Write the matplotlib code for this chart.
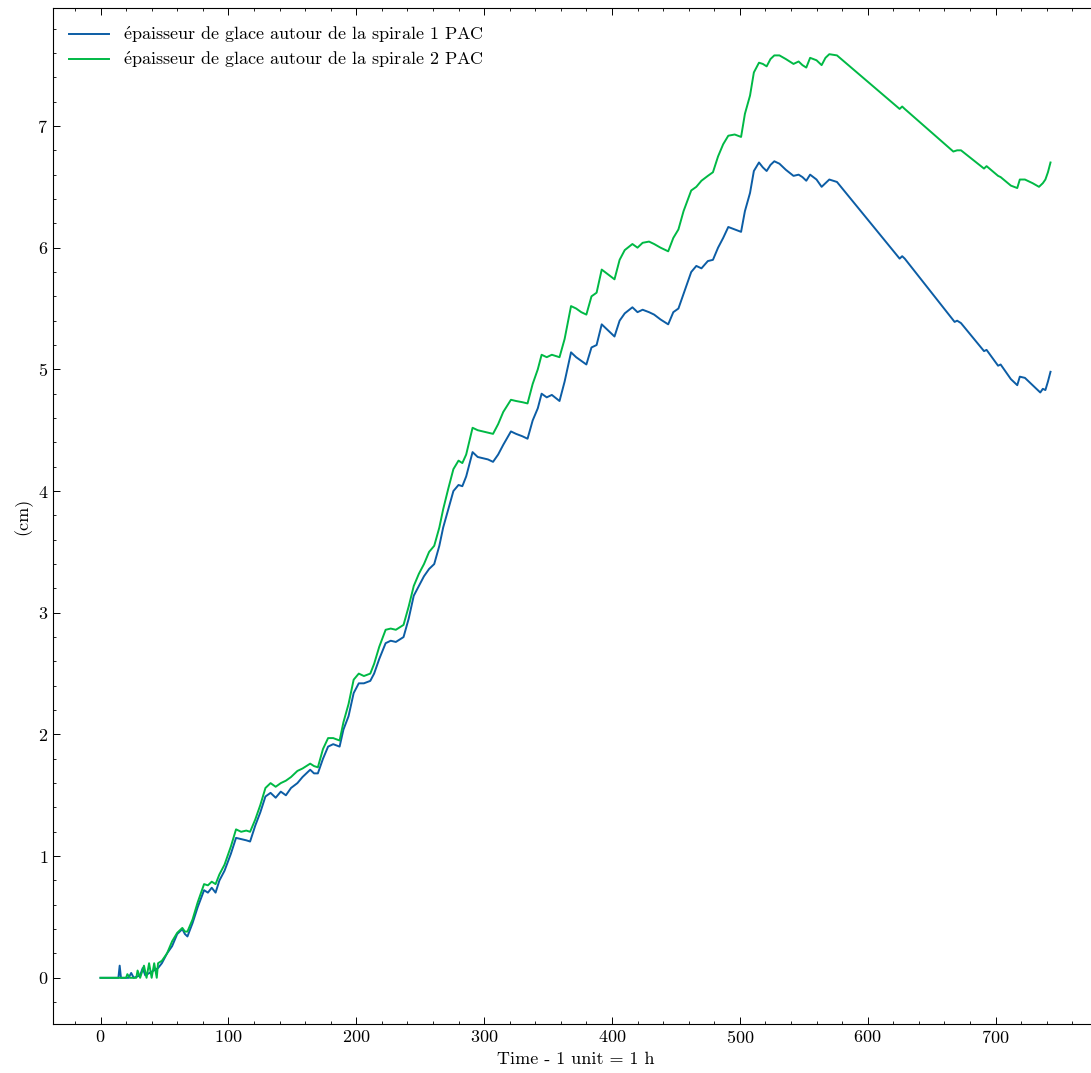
import numpy as np
import matplotlib
matplotlib.use("Agg")
import matplotlib.pyplot as plt
from matplotlib.ticker import MultipleLocator

# valeurs (heures, cm)
hours_1 = [0, 14, 15, 16, 22, 24, 26, 31, 33, 35, 40, 45, 48, 52, 56, 60, 64, 66, 68, 72,
           76, 81, 84, 87, 90, 93, 97, 102, 106, 110, 114, 117, 121, 125, 129, 133, 137, 141,
           145, 149, 154, 158, 164, 167, 170, 174, 178, 182, 187, 190, 194, 198, 202, 206,
           211, 214, 218, 223, 227, 231, 237, 241, 245, 249, 253, 257, 261, 265, 268, 272,
           276, 280, 283, 286, 291, 295, 299, 303, 307, 311, 315, 321, 325, 330, 334, 338,
           342, 345, 349, 353, 359, 363, 368, 372, 376, 380, 384, 388, 392, 397, 402, 406,
           410, 416, 420, 424, 429, 433, 438, 444, 448, 452, 456, 462, 466, 470, 475, 479,
           483, 487, 491, 496, 501, 504, 508, 511, 515, 518, 521, 524, 527, 531, 536, 542,
           546, 549, 552, 555, 560, 564, 567, 570, 576, 625, 627, 629, 668, 670, 673, 691,
           693, 702, 704, 712, 717, 719, 723, 729, 735, 737, 739, 741, 743]
ice_1 = [0, 0, 0.1, 0, 0, 0.04, 0, 0.02, 0.08, 0.02, 0.05, 0.08, 0.12, 0.2, 0.26, 0.36, 0.4,
         0.36, 0.34, 0.45, 0.58, 0.72, 0.7, 0.74, 0.7, 0.8, 0.88, 1.02, 1.15, 1.14, 1.13, 1.12,
         1.25, 1.36, 1.49, 1.52, 1.48, 1.53, 1.5, 1.56, 1.6, 1.65, 1.71, 1.68, 1.68, 1.8, 1.9,
         1.92, 1.9, 2.04, 2.15, 2.34, 2.42, 2.42, 2.44, 2.5, 2.62, 2.75, 2.77, 2.76, 2.8, 2.95,
         3.14, 3.22, 3.3, 3.36, 3.4, 3.55, 3.7, 3.85, 4.0, 4.05, 4.04, 4.12, 4.32, 4.28, 4.27,
         4.26, 4.24, 4.3, 4.38, 4.49, 4.47, 4.45, 4.43, 4.58, 4.68, 4.8, 4.77, 4.79, 4.74, 4.9,
         5.14, 5.1, 5.07, 5.04, 5.18, 5.2, 5.37, 5.32, 5.27, 5.4, 5.46, 5.51, 5.47, 5.49, 5.47,
         5.45, 5.41, 5.37, 5.47, 5.5, 5.62, 5.8, 5.85, 5.83, 5.89, 5.9, 6.0, 6.08, 6.17, 6.15,
         6.13, 6.3, 6.45, 6.63, 6.7, 6.66, 6.63, 6.68, 6.71, 6.69, 6.64, 6.59, 6.6, 6.58, 6.55,
         6.6, 6.56, 6.5, 6.53, 6.56, 6.54, 5.91, 5.93, 5.91, 5.39, 5.4, 5.38, 5.15, 5.16, 5.03,
         5.04, 4.92, 4.87, 4.94, 4.93, 4.87, 4.81, 4.84, 4.83, 4.9, 4.98]

hours_2 = [0, 20, 21, 23, 28, 29, 31, 34, 36, 38, 40, 42, 44, 45, 48, 52, 56, 60, 64, 66, 68,
           72, 76, 81, 84, 87, 90, 93, 97, 102, 106, 110, 114, 117, 121, 125, 129, 133, 137,
           141, 145, 149, 154, 158, 164, 167, 170, 174, 178, 182, 187, 190, 194, 198, 202, 206,
           211, 214, 218, 223, 227, 231, 237, 241, 245, 249, 253, 257, 261, 265, 268, 272, 276,
           280, 283, 286, 291, 295, 299, 303, 307, 311, 315, 321, 325, 330, 334, 338, 342, 345,
           349, 353, 359, 363, 368, 372, 376, 380, 384, 388, 392, 397, 402, 406, 410, 416, 420,
           424, 429, 433, 438, 444, 448, 452, 456, 462, 466, 470, 475, 479, 483, 487, 491, 496,
           501, 504, 508, 511, 515, 518, 521, 524, 527, 531, 536, 542, 546, 549, 552, 555, 560,
           564, 567, 570, 576, 625, 627, 629, 667, 670, 673, 691, 693, 702, 704, 712, 717, 719,
           723, 729, 734, 737, 739, 741, 743]
ice_2 = [0, 0, 0.03, 0, 0, 0.06, 0, 0.1, 0, 0.12, 0, 0.12, 0, 0.12, 0.14, 0.2, 0.3, 0.37, 0.41,
         0.38, 0.38, 0.48, 0.62, 0.77, 0.76, 0.79, 0.77, 0.85, 0.93, 1.08, 1.22, 1.2, 1.21, 1.2,
         1.3, 1.42, 1.56, 1.6, 1.57, 1.6, 1.62, 1.65, 1.7, 1.72, 1.76, 1.74, 1.73, 1.88, 1.97,
         1.97, 1.95, 2.1, 2.25, 2.45, 2.5, 2.48, 2.5, 2.58, 2.72, 2.86, 2.87, 2.86, 2.9, 3.05,
         3.22, 3.32, 3.4, 3.5, 3.55, 3.7, 3.85, 4.02, 4.18, 4.25, 4.23, 4.3, 4.52, 4.5, 4.49,
         4.48, 4.47, 4.55, 4.65, 4.75, 4.74, 4.73, 4.72, 4.88, 5.0, 5.12, 5.1, 5.12, 5.1, 5.25,
         5.52, 5.5, 5.47, 5.45, 5.6, 5.63, 5.82, 5.78, 5.74, 5.9, 5.98, 6.03, 6.0, 6.04, 6.05,
         6.03, 6.0, 5.97, 6.08, 6.15, 6.3, 6.47, 6.5, 6.55, 6.59, 6.62, 6.75, 6.85, 6.92, 6.93,
         6.91, 7.1, 7.25, 7.44, 7.52, 7.51, 7.49, 7.55, 7.58, 7.58, 7.55, 7.51, 7.53, 7.5, 7.48,
         7.56, 7.54, 7.5, 7.56, 7.59, 7.58, 7.14, 7.16, 7.14, 6.79, 6.8, 6.8, 6.65, 6.67, 6.59,
         6.58, 6.51, 6.49, 6.56, 6.56, 6.53, 6.5, 6.53, 6.56, 6.62, 6.7]

# é via mathtext, cmr10 n'a pas le glyphe
labels = [r"$\mathrm{\acute{e}}$paisseur de glace autour de la spirale 1 PAC",
          r"$\mathrm{\acute{e}}$paisseur de glace autour de la spirale 2 PAC"]
colors = ["#0C5DA5", "#00B945"]

plt.rcParams['font.family'] = ['cmr10', 'DejaVu Serif']
plt.rcParams['mathtext.fontset'] = 'cm'
plt.rcParams['axes.formatter.use_mathtext'] = True
plt.rcParams['font.size'] = 13

fig = plt.figure(figsize=(10.91, 10.73), dpi=100)
ax = fig.add_axes([53 / 1091, 49 / 1073, 1045 / 1091, 1016 / 1073])

ax.plot(hours_1, ice_1, color=colors[0], lw=1.4, label=labels[0])
ax.plot(hours_2, ice_2, color=colors[1], lw=1.4, label=labels[1])

ax.xaxis.set_major_locator(MultipleLocator(100))
ax.xaxis.set_minor_locator(MultipleLocator(20))
ax.yaxis.set_major_locator(MultipleLocator(1))
ax.yaxis.set_minor_locator(MultipleLocator(0.2))
ax.tick_params(which='both', direction='in', top=True, right=True, labelsize=13)
ax.tick_params(which='major', length=5, width=0.7)
ax.tick_params(which='minor', length=2.5, width=0.6)
for s in ax.spines.values():
    s.set_linewidth(0.8)

ax.set_xlabel("Time - 1 unit = 1 h", fontsize=13)
ax.set_ylabel("(cm)", fontsize=13)
ax.legend(loc='upper left', frameon=False, fontsize=13, handlelength=2.2,
          labelspacing=0.25)

fig.savefig("out.png", dpi=100)
